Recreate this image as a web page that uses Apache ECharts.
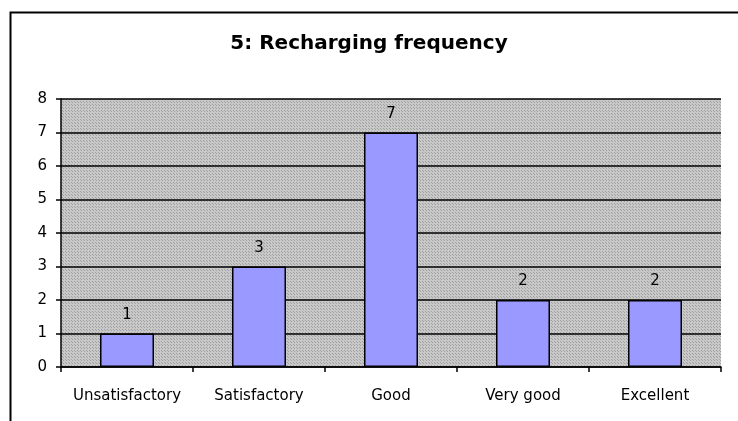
<!DOCTYPE html>
<html>
<head>
<meta charset="utf-8">
<script src="https://cdn.jsdelivr.net/npm/echarts@6/dist/echarts.min.js"></script>
<style>html,body{margin:0;padding:0;background:#fff}#c{width:738px;height:421px}</style>
</head>
<body>
<div id="c"></div>
<script>
const titleText = "5: Recharging frequency";
const categories = ["Unsatisfactory", "Satisfactory", "Good", "Very good", "Excellent"];
const counts = [1, 3, 7, 2, 2];
const yMin = 0, yMax = 8, yStep = 1;

const FONT = 'DejaVu Sans, Liberation Sans, Arial, sans-serif';

// dotted background pattern
const pc = document.createElement('canvas');
pc.width = 3; pc.height = 3;
const px = pc.getContext('2d');
px.fillStyle = '#c8c8c8'; px.fillRect(0,0,3,3);
px.fillStyle = '#a0a0a0'; px.fillRect(0,0,1,1); px.fillRect(2,2,1,1);

const chart = echarts.init(document.getElementById('c'), null, {renderer:'canvas'});
chart.setOption({
  backgroundColor: '#ffffff',
  animation: false,
  title: {
    text: titleText, left: 'center', top: 29, padding: [5, 5, 5, 17],
    textStyle: {fontFamily: FONT, fontWeight: 'bold', fontSize: 20, color: '#000'}
  },
  graphic: [{
    type: 'rect', left: 8, top: 10, silent: true, z: -1,
    shape: {width: 760, height: 440},
    style: {fill: 'none', stroke: '#000', lineWidth: 2}
  }],
  grid: {
    left: 61, right: 17, top: 99, bottom: 54,
    show: true, backgroundColor: {image: pc, repeat: 'repeat'}, borderWidth: 0
  },
  xAxis: {
    type: 'category', data: categories, boundaryGap: true,
    axisLine: {lineStyle: {color: '#000', width: 1.5}},
    axisTick: {show: true, interval: 0, alignWithLabel: false, length: 5, inside: false, lineStyle: {color: '#000', width: 1.5}},
    axisLabel: {interval: 0, hideOverlap: false, color: '#000', fontSize: 15, margin: 22, fontFamily: FONT}
  },
  yAxis: {
    type: 'value', min: yMin, max: yMax, interval: yStep,
    axisLine: {show: true, lineStyle: {color: '#000', width: 1.5}},
    axisTick: {show: true, length: 5, lineStyle: {color: '#000', width: 1.5}},
    axisLabel: {color: '#000', fontSize: 15, margin: 14, fontFamily: FONT},
    splitLine: {show: true, lineStyle: {color: '#000', width: 1.5}}
  },
  series: [{
    type: 'bar', data: counts, barWidth: 54,
    itemStyle: {color: '#9999ff', borderColor: '#000', borderWidth: 1.5},
    label: {show: true, position: 'top', distance: 11, color: '#000', fontSize: 15, fontFamily: FONT}
  }]
});
</script>
</body>
</html>
